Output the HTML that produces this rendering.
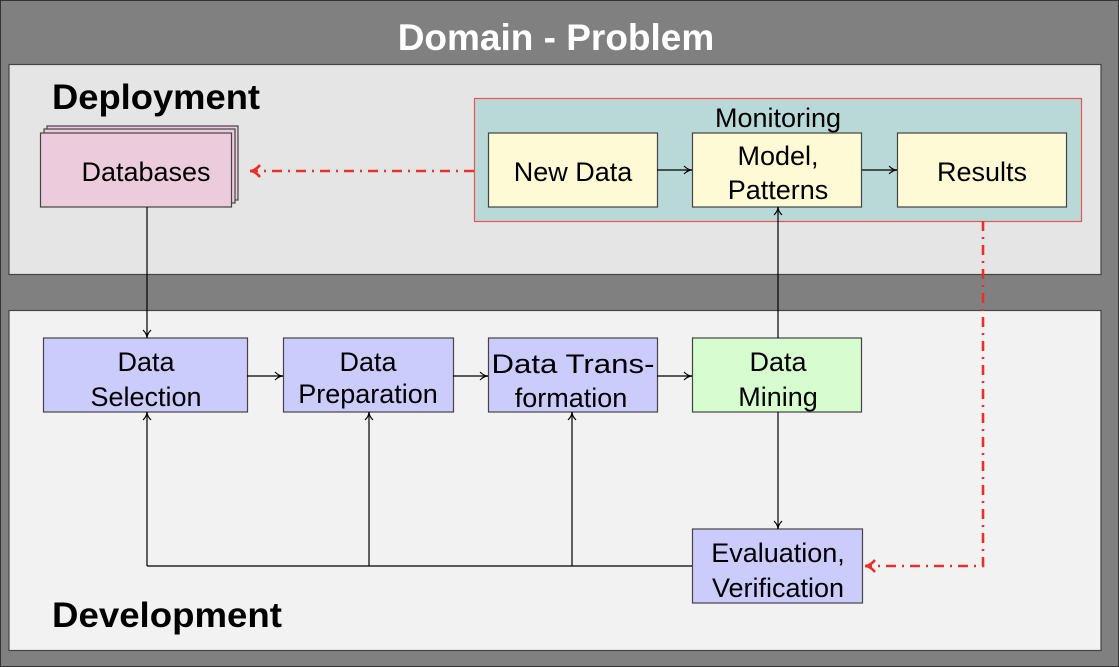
<!DOCTYPE html>
<html><head><meta charset="utf-8"><style>
html,body{margin:0;padding:0;background:#808080}
svg{display:block}
text{font-family:"Liberation Sans",sans-serif}
.n{font-size:27px;fill:#000;text-anchor:middle}
</style></head><body>
<svg width="1119" height="667" viewBox="0 0 1119 667" xmlns="http://www.w3.org/2000/svg">
<defs>
<marker id="a" viewBox="0 0 10 10" refX="9" refY="5" markerWidth="10" markerHeight="10" markerUnits="userSpaceOnUse" orient="auto"><path d="M1,1 Q5,5 9,5 Q5,5 1,9" fill="none" stroke="#000" stroke-width="1.2"/></marker>
<marker id="r" viewBox="0 0 14 14" refX="12" refY="7" markerWidth="14" markerHeight="14" markerUnits="userSpaceOnUse" orient="auto"><path d="M2,1 Q7,7 12,7 Q7,7 2,13" fill="none" stroke="#e8302a" stroke-width="2.6"/></marker>
</defs>
<rect x="0.5" y="0.5" width="1118" height="666" fill="#808080" stroke="#333" stroke-width="1"/>
<text x="556" y="50" font-size="37" font-weight="bold" fill="#fff" text-anchor="middle">Domain - Problem</text>
<rect x="9" y="64.5" width="1092" height="210" fill="#e5e5e5" stroke="#444" stroke-width="1.2"/>
<rect x="9" y="310.5" width="1092" height="340" fill="#f2f2f2" stroke="#444" stroke-width="1.2"/>
<text x="52" y="109" font-size="35" font-weight="bold" fill="#000" textLength="208" lengthAdjust="spacingAndGlyphs">Deployment</text>
<text x="52" y="627" font-size="35" font-weight="bold" fill="#000" textLength="230" lengthAdjust="spacingAndGlyphs">Development</text>
<rect x="47" y="126" width="191" height="74" fill="#ecccdc" stroke="#444" stroke-width="1.2"/>
<rect x="44" y="129" width="191" height="74" fill="#ecccdc" stroke="#444" stroke-width="1.2"/>
<rect x="40.5" y="133" width="191" height="74" fill="#ecccdc" stroke="#444" stroke-width="1.2"/>
<text class="n" x="146" y="181">Databases</text>
<rect x="474.5" y="98.5" width="607" height="123" fill="#b9d9d9" stroke="#ea5550" stroke-width="1.2"/>
<text class="n" x="778" y="127">Monitoring</text>
<rect x="488.5" y="133" width="169" height="74" fill="#fffad6" stroke="#444" stroke-width="1.2"/>
<text class="n" x="573" y="181">New Data</text>
<rect x="692.5" y="133" width="169" height="74" fill="#fffad6" stroke="#444" stroke-width="1.2"/>
<text class="n" x="778" y="165">Model,</text>
<text class="n" x="778" y="199">Patterns</text>
<rect x="897.5" y="133" width="169" height="74" fill="#fffad6" stroke="#444" stroke-width="1.2"/>
<text class="n" x="982" y="181">Results</text>
<line x1="657" y1="170" x2="692" y2="170" stroke="#000" stroke-width="1.2" marker-end="url(#a)"/>
<line x1="862" y1="170" x2="897" y2="170" stroke="#000" stroke-width="1.2" marker-end="url(#a)"/>
<rect x="43.5" y="338" width="204" height="74" fill="#ccccfc" stroke="#444" stroke-width="1.2"/>
<text class="n" x="146" y="371">Data</text><text class="n" x="146" y="406">Selection</text>
<rect x="283.5" y="338" width="170" height="74" fill="#ccccfc" stroke="#444" stroke-width="1.2"/>
<text class="n" x="368" y="371">Data</text><text class="n" x="368" y="403">Preparation</text>
<rect x="488.5" y="338" width="169" height="74" fill="#ccccfc" stroke="#444" stroke-width="1.2"/>
<text class="n" x="573" y="373" textLength="163" lengthAdjust="spacingAndGlyphs">Data Trans-</text><text class="n" x="571" y="407">formation</text>
<rect x="692.5" y="338" width="169" height="74" fill="#d6fcd0" stroke="#444" stroke-width="1.2"/>
<text class="n" x="778" y="371">Data</text><text class="n" x="778" y="406">Mining</text>
<rect x="692.5" y="529" width="170" height="74" fill="#ccccfc" stroke="#444" stroke-width="1.2"/>
<text class="n" x="778" y="562">Evaluation,</text><text class="n" x="778" y="597">Verification</text>
<g stroke="#000" stroke-width="1.2" fill="none">
<line x1="147" y1="207" x2="147" y2="338" marker-end="url(#a)"/>
<line x1="247" y1="376" x2="283" y2="376" marker-end="url(#a)"/>
<line x1="453" y1="376" x2="488" y2="376" marker-end="url(#a)"/>
<line x1="657" y1="376" x2="692" y2="376" marker-end="url(#a)"/>
<line x1="778" y1="338" x2="778" y2="207" marker-end="url(#a)"/>
<line x1="778" y1="412" x2="778" y2="529" marker-end="url(#a)"/>
<line x1="692" y1="566" x2="147" y2="566"/>
<line x1="147" y1="566" x2="147" y2="412" marker-end="url(#a)"/>
<line x1="369" y1="566" x2="369" y2="412" marker-end="url(#a)"/>
<line x1="572" y1="566" x2="572" y2="412" marker-end="url(#a)"/>
</g>
<g stroke="#e8302a" stroke-width="2.6" fill="none" stroke-dasharray="10,6,2,6">
<line x1="474" y1="171" x2="250" y2="171" marker-end="url(#r)"/>
<polyline points="983,221 983,566 865,566" marker-end="url(#r)"/>
</g>
</svg>
</body></html>
